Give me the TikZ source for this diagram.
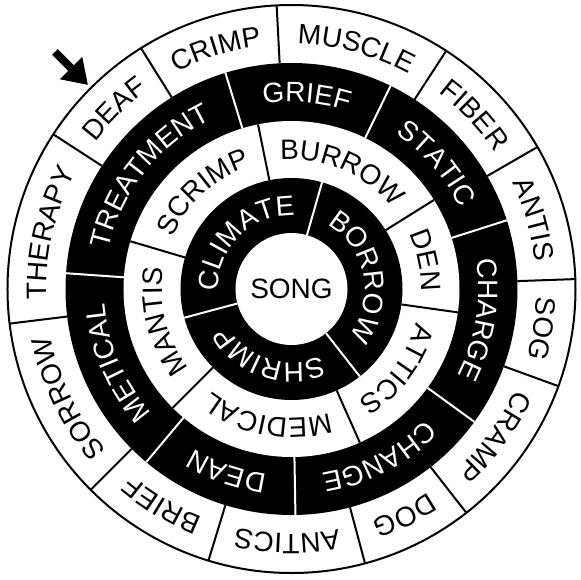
\documentclass[tikz,border=0pt]{standalone}
\usepackage{fontspec}
\setmainfont{Liberation Sans}
\usetikzlibrary{decorations.text,arrows.meta}
\newcommand\ringfont{\fontsize{28}{28}\selectfont}
% #1 start angle, #2 end angle (clockwise), #3 baseline radius, #4 colour, #5 text
\newcommand\seglabel[5]{\path[decorate,decoration={text along path,text={|\ringfont|#5},text align=center,text color=#4}] (#1:#3pt) arc[start angle=#1,end angle=#2,radius=#3pt];}
\tikzset{
  whitediv/.style={white,line width=2pt},
  blackdiv/.style={black,line width=2pt},
}
\begin{document}
\begin{tikzpicture}[x=1pt,y=1pt]
\useasboundingbox (-291.5,-290) rectangle (289.5,289);
\fill[white] (-291.5,-290) rectangle (289.5,289);
% rings
\draw[line width=2pt,fill=white] (0,0) circle[radius=284pt];
\fill[black] (0,0) circle[radius=226pt];
\fill[white] (0,0) circle[radius=168pt];
\fill[black] (0,0) circle[radius=111pt];
\fill[white] (0,0) circle[radius=56pt];
% dividers
\foreach \a in {74,-52,195} \draw[whitediv] (\a:56pt) -- (\a:111pt);
\foreach \a in {163.5,101.5,32,-8,-66,225} \draw[blackdiv] (\a:111pt) -- (\a:168pt);
\foreach \a in {176,107,64,17.7,-36,-89,230} \draw[whitediv] (\a:168pt) -- (\a:226pt);
\foreach \a in {147,122,93,57,30,2,-20,-52,-75,-107,-135,187} \draw[blackdiv] (\a:226pt) -- (\a:284pt);
% centre
\node (song) at (0,0) {\ringfont SONG};
% ring 1
\seglabel{195}{74}{73.5}{white}{CLIMATE}
\seglabel{74}{-52}{73.5}{white}{BORROW}
\seglabel{-52}{-165}{73.5}{white}{SHRIMP}
% ring 2
\seglabel{163.5}{101.5}{129.5}{black}{SCRIMP}
\seglabel{101.5}{32}{129.5}{black}{BURROW}
\seglabel{32}{-8}{129.5}{black}{DEN}
\seglabel{-8}{-66}{129.5}{black}{ATTICS}
\seglabel{-66}{-135}{129.5}{black}{MEDICAL}
\seglabel{225}{163.5}{129.5}{black}{MANTIS}
% ring 3
\seglabel{176}{107}{187}{white}{TREATMENT}
\seglabel{107}{64}{187}{white}{GRIEF}
\seglabel{64}{17.7}{187}{white}{STATIC}
\seglabel{17.7}{-36}{187}{white}{CHARGE}
\seglabel{-36}{-89}{187}{white}{CHANGE}
\seglabel{-89}{-130}{187}{white}{DEAN}
\seglabel{230}{176}{187}{white}{METICAL}
% ring 4
\seglabel{147}{122}{245}{black}{DEAF}
\seglabel{122}{93}{245}{black}{CRIMP}
\seglabel{93}{57}{245}{black}{MUSCLE}
\seglabel{57}{30}{245}{black}{FIBER}
\seglabel{30}{2}{245}{black}{ANTIS}
\seglabel{2}{-20}{245}{black}{SOG}
\seglabel{-20}{-52}{245}{black}{CRAMP}
\seglabel{-52}{-75}{245}{black}{DOG}
\seglabel{-75}{-107}{245}{black}{ANTICS}
\seglabel{-107}{-135}{245}{black}{BRIEF}
\seglabel{-135}{-173}{245}{black}{SORROW}
\seglabel{187}{147}{245}{black}{THERAPY}
% arrow
\coordinate (arrowtail) at (-236.5,237);
\coordinate (arrowtip) at (-203.5,204);
\draw[line width=8pt,-{Triangle[length=24pt,width=30pt]}] (arrowtail) -- (arrowtip);
\end{tikzpicture}
\end{document}
